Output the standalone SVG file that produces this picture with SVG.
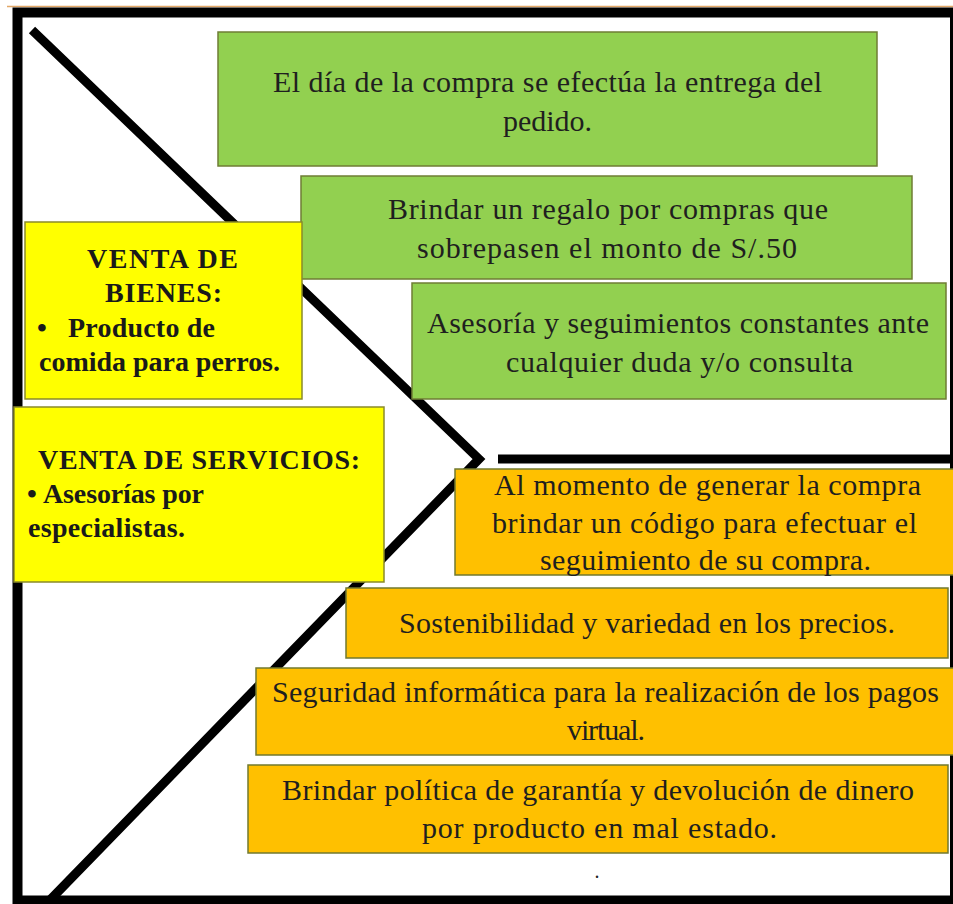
<svg xmlns="http://www.w3.org/2000/svg" width="953" height="904" viewBox="0 0 953 904">
<style>
.frame{fill:none;stroke:#000;stroke-width:10}
.conn{fill:none;stroke:#000;stroke-width:9;stroke-linejoin:miter;stroke-linecap:butt}
.green{fill:#92d050;stroke:#6f7d35;stroke-width:1.5}
.orange{fill:#ffc000;stroke:#72792f;stroke-width:1.5}
.yellow{fill:#ffff00;stroke:#8a8a2a;stroke-width:1.5}
.t{font-family:"Liberation Serif","DejaVu Serif",serif;font-size:30px;fill:#1f1f1f;text-anchor:middle}
.b{font-family:"Liberation Serif","DejaVu Serif",serif;font-size:28px;font-weight:bold;fill:#1a1a1a}
.c{text-anchor:middle}
</style>
<rect x="0" y="0" width="953" height="904" fill="#ffffff"/>
<line x1="7" y1="6.5" x2="953" y2="6.5" stroke="#e2a868" stroke-width="1.5"/>
<rect class="frame" x="17.5" y="12.5" width="937.5" height="888"/>
<g id="connectors">
<polyline class="conn" points="32,30 479,459 50,900"/>
<line class="conn" x1="498" y1="459" x2="953" y2="459"/>
</g>
<g id="g1">
<rect class="green" x="218" y="32" width="659" height="134"/>
<text class="t" x="547.5" y="92" textLength="549">El día de la compra se efectúa la entrega del</text>
<text class="t" x="547.5" y="131" textLength="89">pedido.</text>
</g>
<g id="g2">
<rect class="green" x="301" y="176" width="611" height="103"/>
<text class="t" x="608" y="219" textLength="440">Brindar un regalo por compras que</text>
<text class="t" x="607" y="258" textLength="380">sobrepasen el monto de S/.50</text>
</g>
<g id="g3">
<rect class="green" x="412" y="283" width="534" height="116"/>
<text class="t" x="678" y="333" textLength="502">Asesoría y seguimientos constantes ante</text>
<text class="t" x="679.5" y="372" textLength="347">cualquier duda y/o consulta</text>
</g>
<g id="y1">
<rect class="yellow" x="25" y="222" width="277" height="177"/>
<text class="b c" x="162.5" y="268" textLength="151">VENTA DE</text>
<text class="b c" x="163.5" y="302" textLength="117">BIENES:</text>
<text class="b" x="37" y="337">•</text>
<text class="b" x="68" y="337" textLength="147">Producto de</text>
<text class="b" x="39" y="371" textLength="241">comida para perros.</text>
</g>
<g id="y2">
<rect class="yellow" x="14" y="407" width="370" height="175"/>
<text class="b c" x="199" y="469" textLength="322">VENTA DE SERVICIOS:</text>
<text class="b" x="27" y="503">•</text>
<text class="b" x="43" y="503" textLength="161">Asesorías por</text>
<text class="b" x="28" y="537" textLength="157">especialistas.</text>
</g>
<g id="o1">
<rect class="orange" x="455" y="469" width="505" height="106"/>
<text class="t" x="707.5" y="495" textLength="427">Al momento de generar la compra</text>
<text class="t" x="704.5" y="533" textLength="425">brindar un código para efectuar el</text>
<text class="t" x="705.5" y="570" textLength="331">seguimiento de su compra.</text>
</g>
<g id="o2">
<rect class="orange" x="346" y="588" width="602" height="70"/>
<text class="t" x="647" y="633" textLength="496">Sostenibilidad y variedad en los precios.</text>
</g>
<g id="o3">
<rect class="orange" x="256" y="668" width="704" height="87"/>
<text class="t" x="605.5" y="702" textLength="667">Seguridad informática para la realización de los pagos</text>
<text class="t" x="606" y="740" textLength="78">virtual.</text>
</g>
<g id="o4">
<rect class="orange" x="248" y="765" width="700" height="88"/>
<text class="t" x="598" y="800" textLength="632">Brindar política de garantía y devolución de dinero</text>
<text class="t" x="599.5" y="838" textLength="355">por producto en mal estado.</text>
</g>
<text class="t" x="597" y="878" style="font-size:20px">.</text>
</svg>
